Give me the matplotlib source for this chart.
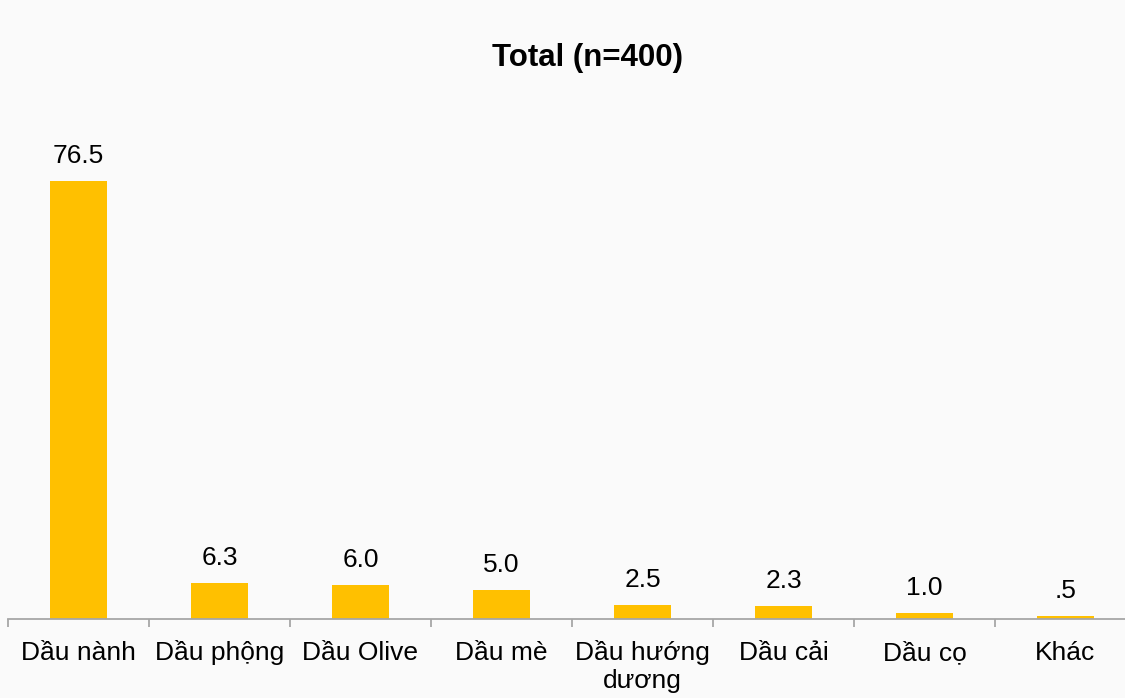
import matplotlib
matplotlib.use("Agg")
import matplotlib.pyplot as plt
import matplotlib.transforms as mtransforms

categories = ["Dầu nành", "Dầu phộng", "Dầu Olive", "Dầu mè", "Dầu hướng\ndương", "Dầu cải", "Dầu cọ", "Khác"]
values = [76.5, 6.3, 6.0, 5.0, 2.5, 2.3, 1.0, 0.5]
title = "Total (n=400)"

plt.rcParams['font.family'] = ['Liberation Sans', 'DejaVu Sans']

W, H = 1125, 698
fig = plt.figure(figsize=(W/100, H/100), dpi=100)
fig.patch.set_facecolor('#fafafa')

left_px, right_px = 8, 1136
bottom_px = 619
top_px = 104
ax = fig.add_axes([left_px/W, (H-bottom_px)/H, (right_px-left_px)/W, (bottom_px-top_px)/H])
ax.set_facecolor('none')

x = list(range(len(categories)))
ax.bar(x, values, width=0.4, color='#FFC000', zorder=2)
ax.set_xlim(-0.5, len(categories)-0.5)
ax.set_ylim(0, 90)

def fmt(v):
    s = f"{v:.1f}"
    if s.startswith("0"):
        s = s[1:]
    return s

for xi, v in zip(x, values):
    ax.annotate(fmt(v), (xi, v), xytext=(0, 13), textcoords='offset points',
                ha='center', va='baseline', fontsize=19, color='#000000')

for s in ['top', 'right', 'left']:
    ax.spines[s].set_visible(False)
ax.spines['bottom'].set_color('#a6a6a6')
ax.spines['bottom'].set_linewidth(1.3)
ax.set_yticks([])

ax.set_xticks([i - 0.5 for i in range(len(categories)+1)])
ax.set_xticklabels([])
ax.tick_params(axis='x', which='major', direction='out', length=6, width=1.3, color='#a6a6a6')

# category labels, baseline-aligned below the axis
trans = mtransforms.blended_transform_factory(ax.transData, ax.transAxes)
offs = mtransforms.ScaledTranslation(0, -41/100, fig.dpi_scale_trans)
for xi, lab in zip(x, categories):
    lines = lab.split("\n")
    for j, ln in enumerate(lines):
        o = mtransforms.ScaledTranslation(0, -(41 + 28*j)/100, fig.dpi_scale_trans)
        ax.text(xi, 0, ln, transform=trans + o, ha='center', va='baseline',
                fontsize=19, color='#000000', clip_on=False)

fig.text(587/W, 1 - 58/H, title, ha='center', va='center', fontsize=22.5, fontweight='bold')

fig.savefig('out.png', dpi=100, facecolor=fig.get_facecolor())
